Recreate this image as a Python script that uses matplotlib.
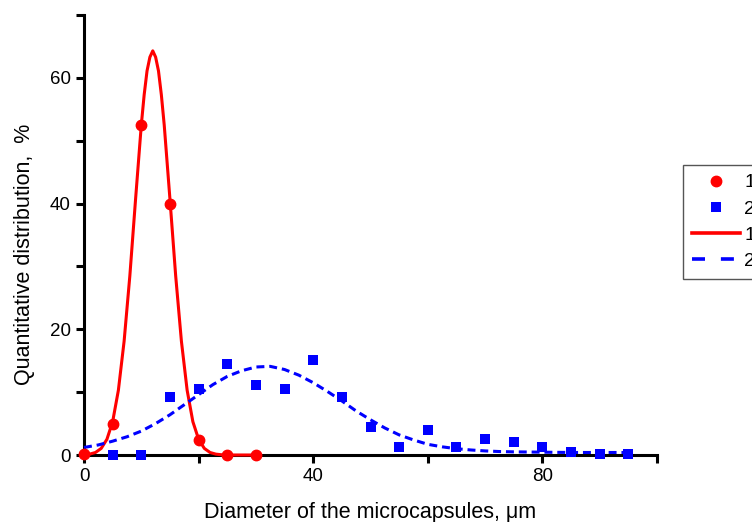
import matplotlib
matplotlib.use("Agg")
import matplotlib.pyplot as plt
from matplotlib.lines import Line2D
from matplotlib.ticker import MultipleLocator

plt.rcParams['font.family'] = ['Liberation Sans', 'DejaVu Sans']
plt.rcParams['font.size'] = 13

# measured points, sample 1 (red) and sample 2 (blue)
x1 = [0, 5, 10, 15, 20, 25, 30]
y1 = [0.2, 5.0, 52.5, 40.0, 2.4, 0.0, 0.0]

x2 = [5, 10, 15, 20, 25, 30, 35, 40, 45, 50, 55, 60, 65, 70, 75, 80, 85, 90, 95]
y2 = [0.0, 0.0, 9.2, 10.5, 14.5, 11.2, 10.5, 15.1, 9.2, 4.5, 1.3, 3.9, 1.3,
      2.5, 2.0, 1.3, 0.5, 0.1, 0.1]

# fitted curves
fx1 = [0, 1, 2, 3, 4, 5, 6, 7, 8, 9, 10, 10.5, 11, 11.5, 12, 12.5, 13, 13.5,
       14, 15, 16, 17, 18, 19, 20, 21, 22, 23, 24, 25, 30]
fy1 = [0.04, 0.14, 0.4, 1.05, 2.5, 5.3, 10.3, 18.1, 28.5, 40.7, 52.5, 57.3,
       61.1, 63.3, 64.3, 63.3, 61.1, 57.3, 52.5, 40.7, 28.5, 18.1, 10.3, 5.3,
       2.5, 1.05, 0.4, 0.14, 0.04, 0.0, 0.0]

fx2 = [0, 2.5, 5, 7.5, 10, 12.5, 15, 17.5, 20, 22.5, 25, 27.5, 30, 32.5, 35,
       37.5, 40, 42.5, 45, 47.5, 50, 52.5, 55, 57.5, 60, 62.5, 65, 67.5, 70,
       72.5, 75, 80, 85, 90, 95]
fy2 = [1.2, 1.6, 2.2, 2.9, 3.8, 5.0, 6.4, 8.0, 9.6, 11.2, 12.5, 13.4, 14.0,
       14.1, 13.6, 12.7, 11.5, 10.1, 8.6, 7.0, 5.6, 4.3, 3.2, 2.4, 1.7, 1.3,
       1.0, 0.8, 0.65, 0.55, 0.5, 0.45, 0.4, 0.4, 0.4]

fig = plt.figure(figsize=(7.52, 5.22), dpi=100)
ax = fig.add_axes([84 / 752, 67 / 522, 573 / 752, 440 / 522])

ax.plot(fx1, fy1, color='red', lw=2.2, zorder=3, clip_on=False)
ax.plot(fx2, fy2, color='blue', lw=2.2, dashes=(2.6, 1.6), zorder=3, clip_on=False)
ax.plot(x1, y1, 'o', color='red', ms=7.5, zorder=4, clip_on=False)
ax.plot(x2, y2, 's', color='blue', ms=7, mew=0, zorder=4, clip_on=False)

ax.set_xlim(0, 100)
ax.set_ylim(0, 70)
ax.xaxis.set_major_locator(MultipleLocator(40))
ax.xaxis.set_minor_locator(MultipleLocator(20))
ax.yaxis.set_major_locator(MultipleLocator(20))
ax.yaxis.set_minor_locator(MultipleLocator(10))

for side in ('top', 'right'):
    ax.spines[side].set_visible(False)
for side in ('left', 'bottom'):
    ax.spines[side].set_linewidth(2.2)
ax.tick_params(which='both', direction='out', length=5.5, width=2.2, pad=4)
ax.tick_params(labelsize=13.5)

ax.set_xlabel('Diameter of the microcapsules, \u03bcm', fontsize=15.5, labelpad=12)
ax.set_ylabel('Quantitative distribution,  %', fontsize=15.5)
ax.yaxis.set_label_coords(-0.086, 0.457)

handles = [
    Line2D([], [], ls='none', marker='o', color='red', ms=7.5),
    Line2D([], [], ls='none', marker='s', color='blue', ms=7, mew=0),
    Line2D([], [], color='red', lw=2.6),
    Line2D([], [], color='blue', lw=2.6, dashes=(3.6, 4.4)),
]
fig.legend(handles, ['1', '2', '1', '2'], loc='upper left',
           bbox_to_anchor=(683 / 752, 1 - 165 / 522), borderaxespad=0,
           fancybox=False, edgecolor='#555555', framealpha=1,
           handlelength=2.5, labelspacing=0.44, handletextpad=0.2,
           borderpad=0.45, fontsize=14)

fig.savefig('out.png', dpi=100)
